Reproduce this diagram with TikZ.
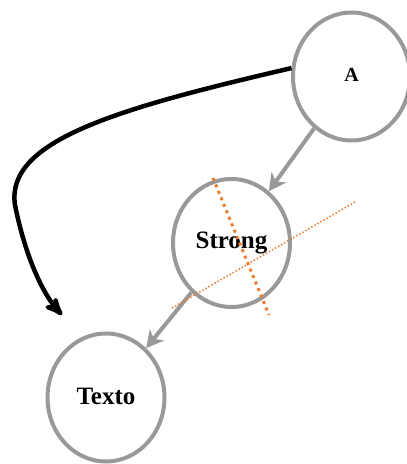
\documentclass[tikz,border=0pt]{standalone}
\usepackage{fontspec}
\setmainfont{Liberation Serif}
\usetikzlibrary{arrows,arrows.meta,shapes.geometric}
\definecolor{nodegray}{RGB}{153,153,153}
\definecolor{cutorange}{RGB}{237,125,49}
\tikzset{
  txt_node/.style = {ellipse, draw=nodegray, line width=4pt, inner sep=0pt,
    minimum width=117pt, minimum height=128pt, text centered,
    font=\bfseries\fontsize{25}{30}\selectfont},
  txt_edge/.style = {draw=nodegray, line width=4pt,
    -{Stealth[length=17pt,width=18pt,inset=5pt]}},
  jump_edge/.style = {draw=black, line width=4.5pt},
  cut_thick/.style = {draw=cutorange, line width=3pt, dash pattern=on 3pt off 4pt},
  cut_thin/.style = {draw=cutorange, line width=1.5pt, dash pattern=on 1.5pt off 2pt}
}

\begin{document}
\begin{tikzpicture}[->,>=stealth',x=1pt,y=-1pt]
\useasboundingbox (0,0) rectangle (407,464);
\node [txt_node, font=\bfseries\fontsize{20}{24}\selectfont] (a) at (351.5,76.5) {\raisebox{4pt}{A}};
\node [txt_node] (strong) at (231.5,243) {Strong};
\node [txt_node] (texto) at (106,397.5) {\raisebox{3pt}{Texto}};
\coordinate (jump_end) at (62,315);
\draw [txt_edge] (a) -- (strong);
\draw [txt_edge] (strong) -- (texto);
\draw [jump_edge] (a.172) .. controls (120,108) and (5,140) .. (15,205)
  .. controls (25,255) and (42,293) .. (jump_end);
% cut lines over Strong
\coordinate (cut1_s) at (213,178);
\coordinate (cut1_e) at (269,315);
\coordinate (cut2_s) at (355,202);
\coordinate (cut2_e) at (172,308);
\draw [cut_thick,-] (cut1_s) -- (cut1_e);
\draw [cut_thin,-] (cut2_s) -- (cut2_e);
\end{tikzpicture}
\end{document}
